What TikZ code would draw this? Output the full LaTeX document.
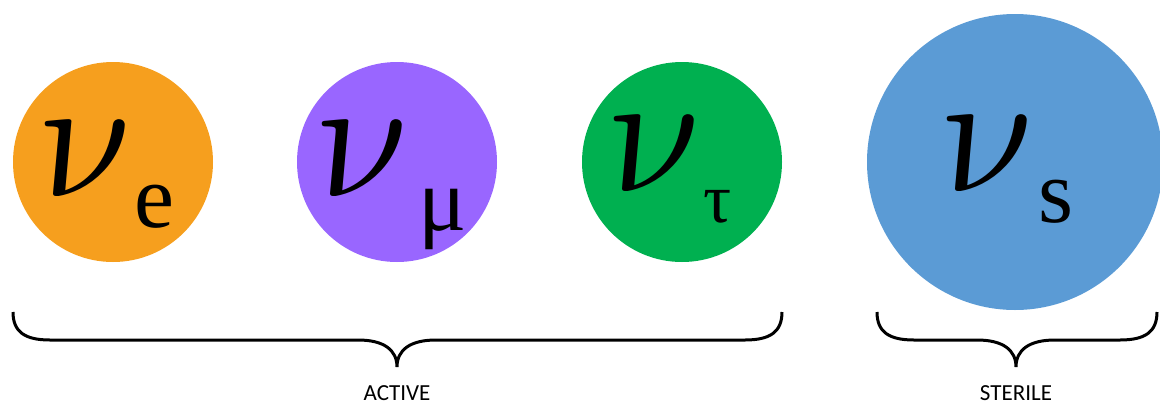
\documentclass[tikz,border=0pt]{standalone}
\usepackage{fontspec}
\usepackage{amsmath,graphicx}
\newfontfamily\subfont{Liberation Serif}
\newfontfamily\labfont{Carlito}
\definecolor{corange}{HTML}{F69F1E}
\definecolor{cpurple}{HTML}{9966FF}
\definecolor{cgreen}{HTML}{00B050}
\definecolor{cblue}{HTML}{5B9BD5}
\newcommand{\bignu}{\scalebox{17.6}[17.4]{$\nu$}}
\tikzset{
  ball/.style={circle, inner sep=0pt, draw=none},
  nuglyph/.style={inner sep=0pt, outer sep=0pt, xslant=-0.16},
  subglyph/.style={inner sep=0pt, outer sep=0pt, font=\subfont\fontsize{90}{90}\selectfont},
  bracestyle/.style={line width=3pt, black},
  labelstyle/.style={inner sep=0pt, font=\labfont\fontsize{23}{23}\selectfont}
}
\begin{document}
\begin{tikzpicture}[x=1pt,y=-1pt]
\useasboundingbox (0,0) rectangle (1160,405);
% particles
\node[ball, fill=corange, minimum size=200pt] (ce) at (113,162) {};
\node[ball, fill=cpurple, minimum size=200pt] (cm) at (397,162) {};
\node[ball, fill=cgreen,  minimum size=200pt] (ct) at (682,162) {};
\node[ball, fill=cblue,   minimum size=296pt] (cs) at (1015,162) {};
% symbols
\node[nuglyph, anchor=base west] (nue) at (44,196) {\bignu};
\node[subglyph, anchor=base west] (se) at (134,227) {e};
\node[nuglyph, anchor=base west] (num) at (321,196) {\bignu};
\node[subglyph, anchor=base west] (sm) at (418,230) {μ};
\node[nuglyph, anchor=base west] (nut) at (613,191) {\bignu};
\node[subglyph, anchor=base west, font=\subfont\fontsize{70}{70}\selectfont] (st) at (703,222) {τ};
\node[nuglyph, anchor=base west] (nus) at (946,191) {\bignu};
\node[subglyph, anchor=base west] (ss) at (1038,222) {s};
% braces
\coordinate (a1) at (13,312);
\coordinate (atip) at (397,367);
\coordinate (a2) at (782,312);
\coordinate (s1) at (877,312);
\coordinate (stip) at (1016,367);
\coordinate (s2) at (1157,312);
\draw[bracestyle] (a1) .. controls (13,332) and (25,340) .. (50,340) -- (358,340)
  .. controls (384,340) and (397,350) .. (atip)
  .. controls (397,350) and (410,340) .. (436,340) -- (745,340)
  .. controls (770,340) and (782,332) .. (a2);
\draw[bracestyle] (s1) .. controls (877,332) and (889,340) .. (914,340) -- (977,340)
  .. controls (1003,340) and (1016,350) .. (stip)
  .. controls (1016,350) and (1029,340) .. (1055,340) -- (1120,340)
  .. controls (1145,340) and (1157,332) .. (s2);
% labels
\node[labelstyle, anchor=base] (la) at (397,400) {ACTIVE};
\node[labelstyle, anchor=base] (ls) at (1016,400) {STERILE};
\end{tikzpicture}
\end{document}
